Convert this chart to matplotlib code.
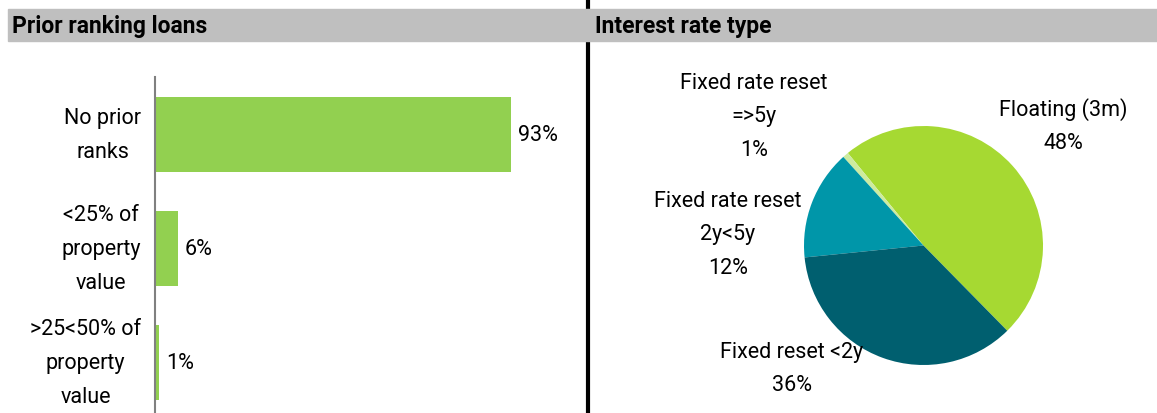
import matplotlib.pyplot as plt
from matplotlib.patches import Rectangle
from matplotlib.lines import Line2D

W, H = 1157, 414

# Prior ranking loans
categories = ['No prior\nranks', '<25% of\nproperty\nvalue', '>25<50% of\nproperty\nvalue']
shares = [93, 6, 1]
bar_labels = ['93%', '6%', '1%']

# Interest rate type (slice sizes)
rate_types = ['Floating (3m)', 'Fixed rate reset\n=>5y', 'Fixed rate reset\n2y<5y', 'Fixed reset <2y']
rate_shares = [48.6, 0.8, 14.9, 35.8]
rate_labels = ['48%', '1%', '12%', '36%']
rate_colors = ['#a6d932', '#cdeba0', '#0096a9', '#005f6f']

plt.rcParams['font.family'] = ['Roboto', 'DejaVu Sans']
FS = 15.5
LS = 1.8

fig = plt.figure(figsize=(W / 100, H / 100), dpi=100)


def fx(x):
    return x / W


def fy(y):
    return 1 - y / H


# divider and header bands
fig.add_artist(Line2D([fx(588), fx(588)], [0, 1], color='black', lw=3))
fig.add_artist(Rectangle((fx(8), fy(42)), fx(580), 32 / H, color='#bfbfbf', zorder=2))
fig.add_artist(Rectangle((fx(588), fy(42)), fx(W - 588), 32 / H, color='#bfbfbf', zorder=2))
fig.text(fx(12), fy(26), 'Prior ranking loans', fontsize=16.5, fontweight='bold',
         va='center', ha='left', zorder=3)
fig.text(fx(595), fy(26), 'Interest rate type', fontsize=16.5, fontweight='bold',
         va='center', ha='left', zorder=3)

# bar chart
ax = fig.add_axes([fx(155), 0, fx(585 - 155), (414 - 78) / H])
ypos = range(len(categories))
ax.barh(ypos, shares, height=0.66, color='#92d050')
ax.set_xlim(0, (585 - 155) / 3.83)
ax.set_ylim(2.443, -0.504)
ax.set_yticks(list(ypos))
ax.set_yticklabels(categories, fontsize=FS)
for t in ax.get_yticklabels():
    t.set_linespacing(LS)
    t.set_multialignment('center')
    t.set_va('center')
ax.tick_params(axis='y', length=0, pad=10)
ax.set_xticks([])
for s in ['top', 'right', 'bottom']:
    ax.spines[s].set_visible(False)
ax.spines['left'].set_color('#808080')
ax.spines['left'].set_linewidth(1.5)
for i, (v, lab) in enumerate(zip(shares, bar_labels)):
    ax.annotate(lab, (v, i), xytext=(5, 0), textcoords='offset points',
                va='center', ha='left', fontsize=FS)

# pie chart
cx, cy, r = 923.5, 246.5, 119.5
pax = fig.add_axes([fx(cx - r), fy(cy + r), 2 * r / W, 2 * r / H])
pax.pie(rate_shares, colors=rate_colors, startangle=-45.5, counterclock=True,
        wedgeprops=dict(linewidth=0))
pax.set_xlim(-1, 1)
pax.set_ylim(-1, 1)

label_pos = [(1063, 126), (754, 117), (728, 235), (792, 369)]
for name, pct, (x, y) in zip(rate_types, rate_labels, label_pos):
    fig.text(fx(x), fy(y), name + '\n' + pct, ha='center', va='center',
             fontsize=FS, linespacing=LS)

fig.savefig('out.png', dpi=100)
